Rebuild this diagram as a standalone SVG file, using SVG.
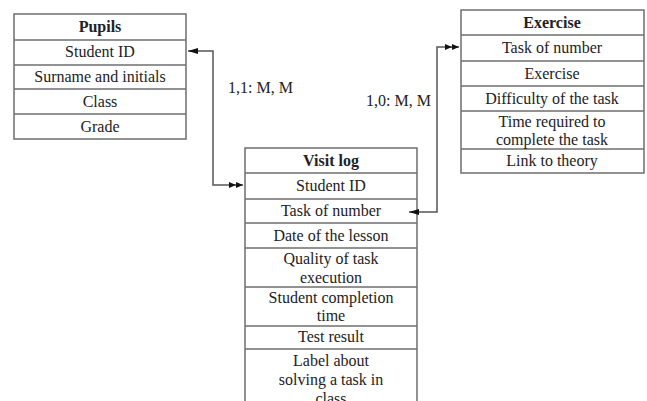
<svg xmlns="http://www.w3.org/2000/svg" width="647" height="401" viewBox="0 0 647 401">
<style>
.box{fill:#fff;stroke:#6e6e6e;stroke-width:1.5}
.sep{stroke:#6e6e6e;stroke-width:1.5}
.t{font-family:'Liberation Serif','Times New Roman','DejaVu Serif',serif;font-size:16px;fill:#222;text-anchor:middle}
.h{font-weight:bold}
.lbl{font-family:'Liberation Serif','Times New Roman','DejaVu Serif',serif;font-size:16px;fill:#222}
.con{fill:none;stroke:#555;stroke-width:1.5}
</style>
<defs>
<marker id="single" viewBox="0 0 10 8" refX="10" refY="4" markerWidth="10" markerHeight="8" markerUnits="userSpaceOnUse" orient="auto">
<path d="M0,1 L10,4 L0,7 Z" fill="#111"/>
</marker>
<marker id="double" viewBox="0 0 14 8" refX="14" refY="4" markerWidth="14" markerHeight="8" markerUnits="userSpaceOnUse" orient="auto-start-reverse">
<path d="M0,1 L7,4 L0,7 Z M7,1 L14,4 L7,7 Z" fill="#111"/>
</marker>
</defs>
<g id="pupils">
<rect class="box" x="14" y="14" width="172" height="125"/>
<line class="sep" x1="14" y1="40" x2="186" y2="40"/>
<line class="sep" x1="14" y1="65" x2="186" y2="65"/>
<line class="sep" x1="14" y1="89" x2="186" y2="89"/>
<line class="sep" x1="14" y1="114" x2="186" y2="114"/>
<text class="t h" x="100" y="32">Pupils</text>
<text class="t" x="100" y="57">Student ID</text>
<text class="t" x="100" y="82">Surname and initials</text>
<text class="t" x="100" y="107">Class</text>
<text class="t" x="100" y="132">Grade</text>
</g>
<g id="visitlog">
<rect class="box" x="245" y="148" width="172" height="260"/>
<line class="sep" x1="245" y1="173" x2="417" y2="173"/>
<line class="sep" x1="245" y1="199" x2="417" y2="199"/>
<line class="sep" x1="245" y1="223" x2="417" y2="223"/>
<line class="sep" x1="245" y1="248" x2="417" y2="248"/>
<line class="sep" x1="245" y1="287" x2="417" y2="287"/>
<line class="sep" x1="245" y1="326" x2="417" y2="326"/>
<line class="sep" x1="245" y1="349" x2="417" y2="349"/>
<text class="t h" x="331" y="166">Visit log</text>
<text class="t" x="331" y="191">Student ID</text>
<text class="t" x="331" y="216">Task of number</text>
<text class="t" x="331" y="241">Date of the lesson</text>
<text class="t" x="331" y="264">Quality of task</text>
<text class="t" x="331" y="283">execution</text>
<text class="t" x="331" y="303">Student completion</text>
<text class="t" x="331" y="321">time</text>
<text class="t" x="331" y="342">Test result</text>
<text class="t" x="331" y="366">Label about</text>
<text class="t" x="331" y="385">solving a task in</text>
<text class="t" x="331" y="404">class</text>
</g>
<g id="exercise">
<rect class="box" x="461" y="10" width="183" height="163"/>
<line class="sep" x1="461" y1="35" x2="644" y2="35"/>
<line class="sep" x1="461" y1="61" x2="644" y2="61"/>
<line class="sep" x1="461" y1="86" x2="644" y2="86"/>
<line class="sep" x1="461" y1="111" x2="644" y2="111"/>
<line class="sep" x1="461" y1="149" x2="644" y2="149"/>
<text class="t h" x="552" y="28">Exercise</text>
<text class="t" x="552" y="53">Task of number</text>
<text class="t" x="552" y="79">Exercise</text>
<text class="t" x="552" y="104">Difficulty of the task</text>
<text class="t" x="552" y="127">Time required to</text>
<text class="t" x="552" y="145">complete the task</text>
<text class="t" x="552" y="166">Link to theory</text>
</g>
<g id="connectors">
<polyline class="con" points="243,185 213,185 213,51 188,51" marker-start="url(#double)" marker-end="url(#single)"/>
<polyline class="con" points="459,47 437,47 437,212 409,212" marker-start="url(#double)" marker-end="url(#single)"/>
<text class="lbl" x="228" y="93">1,1: M, M</text>
<text class="lbl" x="366" y="106">1,0: M, M</text>
</g>
</svg>
